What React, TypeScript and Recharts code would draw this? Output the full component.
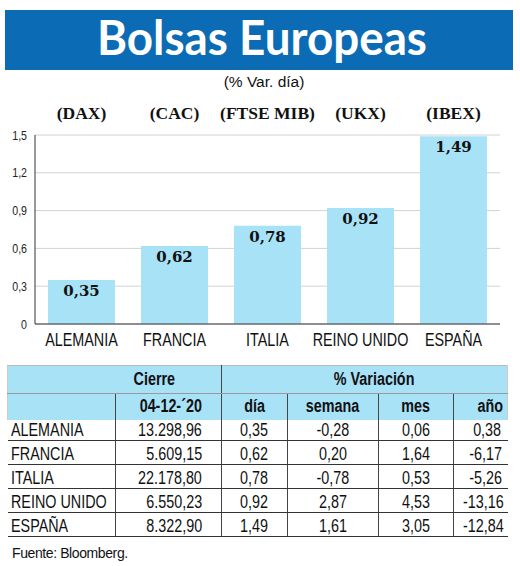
import React from "react";
import { BarChart, Bar, XAxis, YAxis, CartesianGrid, LabelList } from "recharts";

const countries = ["ALEMANIA", "FRANCIA", "ITALIA", "REINO UNIDO", "ESPAÑA"];
const indices = ["(DAX)", "(CAC)", "(FTSE MIB)", "(UKX)", "(IBEX)"];
const dayChange = [0.35, 0.62, 0.78, 0.92, 1.49];
const yTicks = [0, 0.3, 0.6, 0.9, 1.2, 1.5];

const closeDate = "04-12-´20";
const closeValues = ["13.298,96", "5.609,15", "22.178,80", "6.550,23", "8.322,90"];
const weekChange = [-0.28, 0.2, -0.78, 2.87, 1.61];
const monthChange = [0.06, 1.64, 0.53, 4.53, 3.05];
const yearChange = [0.38, -6.17, -5.26, -13.16, -12.84];

const chartData = countries.map((c, i) => ({ country: c, index: indices[i], value: dayChange[i] }));

// no condensed font installed, so Arial metrics squeezed horizontally
const SANS = "'Liberation Sans', Arial, sans-serif";
const SERIF = "'Liberation Serif', 'Times New Roman', serif";
const BLUE = "#0b6cb5";
const LIGHT = "#a8e2f7";
const SQUEEZE = 0.82;

const comma = (v: number, d = 2) => v.toFixed(d).replace(".", ",");
const tickComma = (v: number) => (v === 0 ? "0" : String(v).replace(".", ","));

const BottomTick = (props: any) => (
  <text
    transform={`translate(${props.x},${props.y + 14}) scale(${SQUEEZE},1)`}
    textAnchor="middle"
    fontFamily={SANS}
    fontSize={17.5}
    fill="#111"
  >
    {props.payload.value}
  </text>
);

const TopTick = (props: any) => (
  <text x={props.x} y={props.y - 8} textAnchor="middle" fontFamily={SERIF} fontWeight="bold" fontSize={17.5} fill="#111">
    {props.payload.value}
  </text>
);

const LeftTick = (props: any) => (
  <text
    transform={`translate(${props.x},${props.y}) scale(0.85,1)`}
    dy="0.36em"
    textAnchor="end"
    fontFamily={SANS}
    fontSize={12.5}
    fill="#222"
  >
    {tickComma(props.payload.value)}
  </text>
);

const BarValue = (props: any) => (
  <text
    x={props.x + props.width / 2}
    y={props.y + 16}
    textAnchor="middle"
    fontFamily="'DejaVu Serif', serif"
    fontWeight="bold"
    fontSize={15}
    fill="#111"
  >
    {comma(props.value)}
  </text>
);

const Narrow = ({ children, origin }: { children: React.ReactNode; origin: string }) => (
  <span style={{ display: "inline-block", whiteSpace: "nowrap", transform: `scaleX(${SQUEEZE})`, transformOrigin: origin }}>
    {children}
  </span>
);

const th: React.CSSProperties = { fontWeight: "bold", padding: 0, fontSize: 17.5 };
const td: React.CSSProperties = { padding: "0 0 1px 0", verticalAlign: "bottom", lineHeight: "18px", borderBottom: "1px solid #333" };
const vline = "1px solid #444";

export default function App() {
  return (
    <div style={{ position: "absolute", left: 0, top: 0, width: 520, height: 566, background: "#fff", overflow: "hidden" }}>
      <div style={{ position: "absolute", left: 0, top: 0 }}>
        <BarChart width={520} height={360} data={chartData} margin={{ top: 105, right: 20, left: 5, bottom: 6 }} barCategoryGap="14%">
          <CartesianGrid xAxisId="bottom" vertical={false} stroke="#d2d2d2" />
          <XAxis xAxisId="top" orientation="top" dataKey="index" height={30} axisLine={false} tickLine={false} tick={TopTick} interval={0} />
          <XAxis xAxisId="bottom" dataKey="country" height={30} axisLine={{ stroke: "#333" }} tickLine={false} tick={BottomTick} interval={0} />
          <YAxis width={30} domain={[0, 1.5]} ticks={yTicks} axisLine={{ stroke: "#333" }} tickLine={false} tick={LeftTick} />
          <Bar xAxisId="bottom" dataKey="value" fill={LIGHT} isAnimationActive={false}>
            <LabelList dataKey="value" content={BarValue} />
          </Bar>
        </BarChart>
      </div>

      <div style={{ position: "absolute", left: 5, top: 10, width: 508, height: 60, background: BLUE }}>
        <svg width={508} height={60} style={{ overflow: "visible" }}>
          <text
            x={257}
            y={45}
            textAnchor="middle"
            fontFamily="Lato, 'Open Sans', sans-serif"
            fontWeight="bold"
            fontSize={47}
            fill="#fff"
            textLength={330}
            lengthAdjust="spacingAndGlyphs"
          >
            Bolsas Europeas
          </text>
        </svg>
      </div>

      <div style={{ position: "absolute", left: 0, top: 73, width: 528, textAlign: "center", fontFamily: SANS, fontSize: 15.5, color: "#111" }}>
        (% Var. día)
      </div>

      <table
        style={{
          position: "absolute",
          left: 7,
          top: 365,
          width: 500,
          borderCollapse: "collapse",
          tableLayout: "fixed",
          fontFamily: SANS,
          fontSize: 17.5,
          color: "#111",
        }}
      >
        <colgroup>
          <col style={{ width: 108 }} />
          <col style={{ width: 106 }} />
          <col style={{ width: 66 }} />
          <col style={{ width: 91 }} />
          <col style={{ width: 75 }} />
          <col style={{ width: 54 }} />
        </colgroup>
        <thead>
          <tr style={{ height: 28, background: LIGHT }}>
            <th colSpan={2} style={{ ...th, paddingLeft: 80, borderTop: "1px solid #bbb", borderLeft: "1px solid #ccc", borderRight: vline, borderBottom: "1px solid #999" }}>
              <Narrow origin="center">Cierre</Narrow>
            </th>
            <th colSpan={4} style={{ ...th, paddingLeft: 20, borderTop: "1px solid #bbb", borderRight: "1px solid #ccc", borderBottom: "1px solid #999" }}>
              <Narrow origin="center">% Variación</Narrow>
            </th>
          </tr>
          <tr style={{ height: 26, background: LIGHT }}>
            <th style={{ ...th, borderLeft: "1px solid #ccc", borderRight: vline }} />
            <th style={{ ...th, textAlign: "right", paddingRight: 19, borderRight: vline }}>
              <Narrow origin="right">{closeDate}</Narrow>
            </th>
            <th style={{ ...th, borderRight: vline }}>
              <Narrow origin="center">día</Narrow>
            </th>
            <th style={{ ...th, borderRight: vline }}>
              <Narrow origin="center">semana</Narrow>
            </th>
            <th style={{ ...th, borderRight: vline }}>
              <Narrow origin="center">mes</Narrow>
            </th>
            <th style={{ ...th, textAlign: "right", paddingRight: 4, borderRight: "1px solid #ccc" }}>
              <Narrow origin="right">año</Narrow>
            </th>
          </tr>
        </thead>
        <tbody>
          {countries.map((c, i) => (
            <tr key={c} style={{ height: i === 0 ? 21 : 24 }}>
              <td style={{ ...td, paddingLeft: 3, borderRight: vline }}>
                <Narrow origin="left">{c}</Narrow>
              </td>
              <td style={{ ...td, textAlign: "right", paddingRight: 19, borderRight: vline }}>
                <Narrow origin="right">{closeValues[i]}</Narrow>
              </td>
              <td style={{ ...td, textAlign: "center", borderRight: vline }}>
                <Narrow origin="center">{comma(dayChange[i])}</Narrow>
              </td>
              <td style={{ ...td, textAlign: "center", borderRight: vline }}>
                <Narrow origin="center">{comma(weekChange[i])}</Narrow>
              </td>
              <td style={{ ...td, textAlign: "center", borderRight: vline }}>
                <Narrow origin="center">{comma(monthChange[i])}</Narrow>
              </td>
              <td style={{ ...td, textAlign: "right", paddingRight: 6 }}>
                <Narrow origin="right">{comma(yearChange[i])}</Narrow>
              </td>
            </tr>
          ))}
        </tbody>
      </table>

      <div style={{ position: "absolute", left: 12, top: 545, fontFamily: SANS, fontSize: 14, letterSpacing: -0.4, color: "#111" }}>
        Fuente: Bloomberg.
      </div>
    </div>
  );
}
